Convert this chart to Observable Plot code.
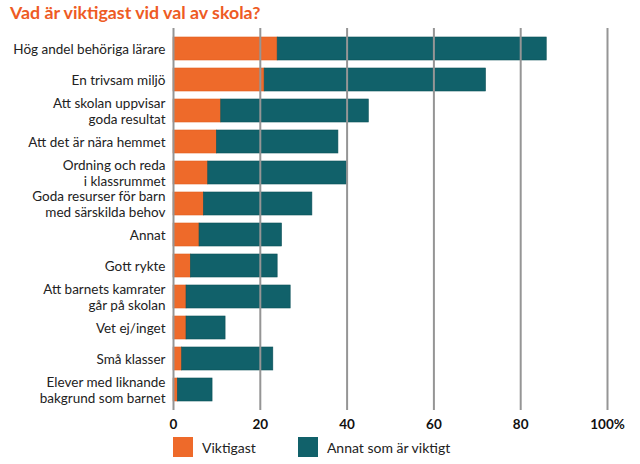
<!DOCTYPE html>
<html>
<head>
<meta charset="utf-8">
<script src="https://cdn.jsdelivr.net/npm/d3@7"></script>
<script src="https://cdn.jsdelivr.net/npm/@observablehq/plot@0.6"></script>
<style>
  body { margin: 0; background: #fff; font-family: Lato, "Open Sans", sans-serif; }
  #title { height: 28px; box-sizing: border-box; padding: 2px 0 0 10px; font-size: 17.8px; font-weight: 700; color: #EE5B24; line-height: 20px; }
  #legend { display: flex; align-items: center; margin-left: 173px; margin-top: 2px; font-size: 14px; color: #222; }
  .item { display: flex; align-items: center; }
  .sw { width: 20px; height: 20px; margin-right: 9px; box-sizing: border-box; }
</style>
</head>
<body>
<div id="title">Vad är viktigast vid val av skola?</div>
<div id="chart"></div>
<div id="legend"></div>
<script>
const categories = [
  "Hög andel behöriga lärare",
  "En trivsam miljö",
  "Att skolan uppvisar\ngoda resultat",
  "Att det är nära hemmet",
  "Ordning och reda\ni klassrummet",
  "Goda resurser för barn\nmed särskilda behov",
  "Annat",
  "Gott rykte",
  "Att barnets kamrater\ngår på skolan",
  "Vet ej/inget",
  "Små klasser",
  "Elever med liknande\nbakgrund som barnet"
];
const viktigast = [24, 21, 11, 10, 8, 7, 6, 4, 3, 3, 2, 1];
const totalt    = [86, 72, 45, 38, 40, 32, 25, 24, 27, 12, 23, 9];
const seriesNames = ["Viktigast", "Annat som är viktigt"];
const seriesColors = ["#EE6A2A", "#11616A"];
const xTicks = [0, 20, 40, 60, 80, 100];

const data = [];
categories.forEach((c, i) => {
  data.push({cat: c, series: seriesNames[0], value: viktigast[i]});
  data.push({cat: c, series: seriesNames[1], value: totalt[i] - viktigast[i]});
});

const chart = Plot.plot({
  width: 640,
  height: 407,
  marginTop: 0,
  marginBottom: 25,
  marginLeft: 173,
  marginRight: 33,
  style: {fontFamily: "Lato, 'Open Sans', sans-serif", fontSize: "14px", color: "#222"},
  x: {domain: [0, 100], ticks: xTicks, tickFormat: d => d === 100 ? "100%" : String(d), label: null},
  y: {domain: categories, paddingInner: 0.26, paddingOuter: 0.16, label: null},
  color: {domain: seriesNames, range: seriesColors},
  marks: [
    Plot.barX(data, Plot.stackX({x: "value", y: "cat", fill: "series", order: seriesNames, stroke: d => d.series === seriesNames[1] ? "#0b5058" : "#e0601f", strokeWidth: 0.6})),
    Plot.gridX(xTicks, {stroke: "#959595", strokeOpacity: 1, strokeWidth: 2}),
    Plot.axisX({ticks: xTicks, tickSize: 0, tickPadding: 9, fontSize: 13.5, fontWeight: 700, tickFormat: d => d === 100 ? "100%" : String(d), label: null, fill: "#111"}),
    Plot.axisY({tickSize: 0, tickPadding: 8, fontSize: 13.5, label: null, fill: "#222", lineHeight: 1.13})
  ]
});
document.getElementById("chart").appendChild(chart);

const legend = document.getElementById("legend");
seriesNames.forEach((n, i) => {
  const item = document.createElement("div");
  item.className = "item";
  item.style.marginRight = i === 0 ? "42px" : "0";
  const sw = document.createElement("div");
  sw.className = "sw";
  sw.style.background = seriesColors[i];
  const t = document.createElement("span");
  t.textContent = n;
  item.appendChild(sw);
  item.appendChild(t);
  legend.appendChild(item);
});
</script>
</body>
</html>
